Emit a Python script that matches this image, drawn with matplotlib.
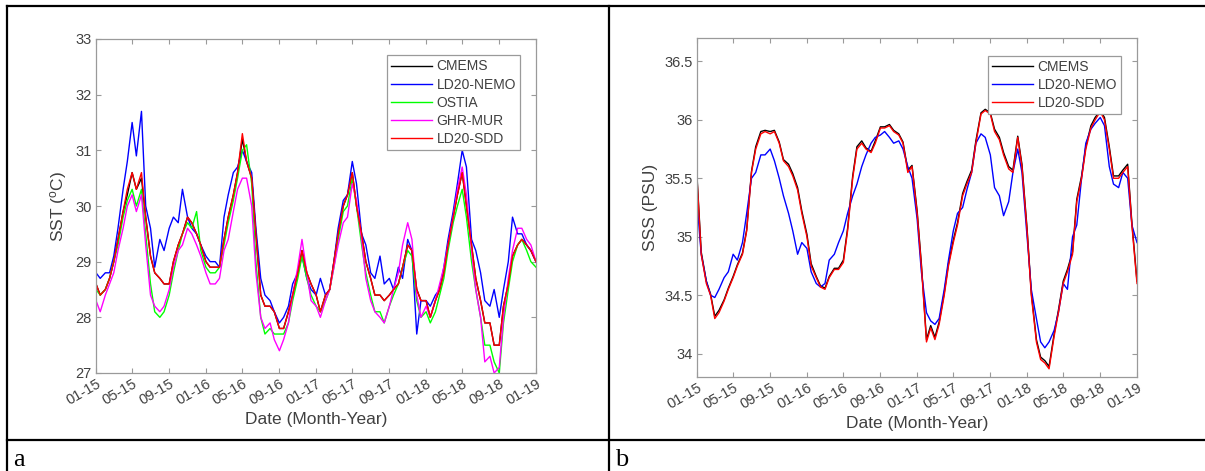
import numpy as np
import pandas as pd
import matplotlib
matplotlib.use("Agg")
import matplotlib.pyplot as plt
import matplotlib.dates as mdates
import matplotlib.ticker as mticker
from matplotlib.lines import Line2D

# ── Data (semi-monthly readings, Jan 2015 .. Jan 2019) ─────────────────────
dates = pd.date_range("2015-01-01", periods=97, freq="SMS")

sst_cmems = [
    28.6, 28.4, 28.5, 28.7, 29.0, 29.4, 29.9, 30.2, 30.6, 30.3, 30.5, 29.8, 29.1, 28.8, 28.7, 28.6, 28.6, 29.0, 29.3, 29.5, 29.8, 29.7, 29.5, 29.3,
    29.0, 28.9, 28.9, 28.9, 29.4, 29.8, 30.2, 30.6, 31.2, 30.8, 30.5, 29.5, 28.4, 28.2, 28.2, 28.1, 27.8, 27.8, 28.1, 28.4, 28.8, 29.2, 28.8, 28.6,
    28.4, 28.1, 28.4, 28.5, 29.0, 29.5, 30.0, 30.2, 30.6, 30.0, 29.5, 29.0, 28.7, 28.4, 28.4, 28.3, 28.4, 28.5, 28.6, 28.9, 29.3, 29.2, 28.5, 28.3,
    28.3, 28.0, 28.3, 28.5, 28.8, 29.3, 29.8, 30.2, 30.6, 30.0, 29.3, 28.7, 28.3, 27.9, 27.9, 27.5, 27.5, 28.2, 28.6, 29.1, 29.3, 29.4, 29.3, 29.2,
    29.0,
]
sst_nemo = [
    28.8, 28.7, 28.8, 28.8, 29.1, 29.6, 30.3, 30.8, 31.5, 30.9, 31.7, 30.0, 29.6, 28.9, 29.4, 29.2, 29.6, 29.8, 29.7, 30.3, 29.8, 29.6, 29.5, 29.3,
    29.1, 29.0, 29.0, 28.9, 29.8, 30.2, 30.6, 30.7, 31.0, 30.8, 30.6, 29.6, 28.7, 28.4, 28.3, 28.1, 27.9, 28.0, 28.2, 28.6, 28.8, 29.1, 28.7, 28.5,
    28.4, 28.7, 28.4, 28.5, 29.0, 29.6, 30.1, 30.2, 30.8, 30.4, 29.5, 29.3, 28.8, 28.7, 29.1, 28.6, 28.7, 28.5, 28.9, 28.7, 29.4, 29.2, 27.7, 28.3,
    28.3, 28.2, 28.4, 28.5, 28.9, 29.4, 29.9, 30.4, 31.0, 30.7, 29.4, 29.2, 28.8, 28.3, 28.2, 28.5, 28.0, 28.5, 29.0, 29.8, 29.5, 29.5, 29.3, 29.2,
    29.0,
]
sst_ostia = [
    28.5, 28.4, 28.5, 28.7, 29.0, 29.3, 29.8, 30.1, 30.3, 30.0, 30.3, 29.5, 28.6, 28.1, 28.0, 28.1, 28.4, 28.8, 29.2, 29.5, 29.7, 29.6, 29.9, 29.2,
    28.9, 28.8, 28.8, 28.9, 29.3, 29.7, 30.1, 30.5, 31.0, 31.1, 30.4, 29.0, 28.0, 27.7, 27.8, 27.7, 27.7, 27.7, 27.9, 28.3, 28.7, 29.1, 28.7, 28.4,
    28.2, 28.1, 28.3, 28.5, 28.9, 29.4, 29.9, 30.0, 30.5, 30.0, 29.3, 28.8, 28.4, 28.1, 28.1, 27.9, 28.2, 28.4, 28.6, 28.9, 29.2, 29.1, 28.3, 28.0,
    28.1, 27.9, 28.1, 28.4, 28.7, 29.2, 29.7, 30.0, 30.3, 29.8, 29.0, 28.5, 28.0, 27.5, 27.5, 27.2, 27.0, 27.9, 28.5, 29.0, 29.3, 29.4, 29.2, 29.0,
    28.9,
]
sst_mur = [
    28.3, 28.1, 28.4, 28.6, 28.8, 29.2, 29.6, 30.0, 30.2, 29.9, 30.2, 29.3, 28.4, 28.2, 28.1, 28.2, 28.5, 28.9, 29.2, 29.3, 29.6, 29.5, 29.3, 29.1,
    28.8, 28.6, 28.6, 28.7, 29.2, 29.4, 29.9, 30.3, 30.5, 30.5, 30.0, 28.8, 28.0, 27.8, 27.9, 27.6, 27.4, 27.6, 27.9, 28.4, 28.9, 29.4, 28.8, 28.3,
    28.2, 28.0, 28.3, 28.5, 28.9, 29.3, 29.7, 29.8, 30.4, 30.1, 29.4, 28.7, 28.3, 28.1, 28.0, 27.9, 28.2, 28.5, 28.8, 29.3, 29.7, 29.4, 28.4, 28.0,
    28.2, 28.0, 28.3, 28.6, 28.9, 29.3, 29.8, 30.3, 30.7, 30.2, 29.2, 28.5, 28.0, 27.2, 27.3, 27.0, 27.1, 28.0, 28.7, 29.2, 29.6, 29.6, 29.4, 29.3,
    29.0,
]
sst_sdd = [
    28.6, 28.4, 28.5, 28.7, 29.0, 29.4, 29.9, 30.3, 30.6, 30.3, 30.6, 29.8, 29.1, 28.8, 28.7, 28.6, 28.6, 29.0, 29.3, 29.5, 29.8, 29.7, 29.5, 29.3,
    29.0, 28.9, 28.9, 28.9, 29.4, 29.8, 30.2, 30.6, 31.3, 30.8, 30.5, 29.5, 28.4, 28.2, 28.2, 28.1, 27.8, 27.8, 28.1, 28.4, 28.8, 29.2, 28.8, 28.6,
    28.4, 28.1, 28.4, 28.5, 29.0, 29.5, 30.0, 30.2, 30.6, 30.0, 29.5, 29.0, 28.7, 28.4, 28.4, 28.3, 28.4, 28.5, 28.6, 28.9, 29.3, 29.2, 28.5, 28.3,
    28.3, 28.0, 28.3, 28.5, 28.8, 29.3, 29.8, 30.2, 30.6, 30.0, 29.3, 28.7, 28.3, 27.9, 27.9, 27.5, 27.5, 28.2, 28.6, 29.1, 29.3, 29.4, 29.3, 29.2,
    29.0,
]

sss_cmems = [
    35.52, 34.87, 34.62, 34.51, 34.32, 34.37, 34.46, 34.56, 34.66, 34.76, 34.86, 35.06, 35.56, 35.77, 35.9, 35.91, 35.9, 35.91, 35.81, 35.66, 35.62, 35.54, 35.42, 35.22,
    35.02, 34.77, 34.66, 34.58, 34.56, 34.66, 34.73, 34.73, 34.8, 35.07, 35.52, 35.77, 35.82, 35.76, 35.73, 35.82, 35.94, 35.94, 35.96, 35.91, 35.88, 35.81, 35.57, 35.61,
    35.22, 34.77, 34.12, 34.24, 34.14, 34.27, 34.52, 34.77, 34.97, 35.12, 35.37, 35.47, 35.57, 35.82, 36.06, 36.09, 36.06, 35.92, 35.85, 35.72, 35.6, 35.57, 35.86, 35.62,
    35.07, 34.52, 34.12, 33.97, 33.94, 33.89, 34.17, 34.37, 34.62, 34.72, 34.87, 35.32, 35.52, 35.77, 35.95, 36.02, 36.08, 36.02, 35.77, 35.52, 35.52, 35.57, 35.62, 35.12,
    34.62,
]
sss_nemo = [
    35.3, 34.85, 34.62, 34.5, 34.48, 34.55, 34.65, 34.7, 34.85, 34.8, 34.95, 35.2, 35.5, 35.55, 35.7, 35.7, 35.75, 35.65, 35.5, 35.35, 35.2, 35.05, 34.85, 34.95,
    34.9, 34.7, 34.6, 34.57, 34.6, 34.8, 34.85, 34.95, 35.05, 35.2, 35.35, 35.45, 35.6, 35.7, 35.8, 35.85, 35.87, 35.9, 35.85, 35.8, 35.82, 35.75, 35.6, 35.5,
    35.15, 34.7, 34.35, 34.28, 34.25, 34.3, 34.55, 34.8, 35.05, 35.2, 35.25, 35.4, 35.55, 35.8, 35.88, 35.85, 35.7, 35.42, 35.35, 35.18, 35.3, 35.55, 35.75, 35.55,
    35.0, 34.55, 34.3, 34.1, 34.05, 34.1, 34.2, 34.35, 34.6, 34.55, 35.0, 35.1, 35.5, 35.8, 35.92, 35.97, 36.02, 35.95, 35.6, 35.45, 35.42, 35.55, 35.5, 35.1,
    34.95,
]
sss_sdd = [
    35.5, 34.85, 34.6, 34.5, 34.3, 34.35, 34.45, 34.55, 34.65, 34.75, 34.85, 35.05, 35.55, 35.75, 35.88, 35.9, 35.88, 35.9, 35.8, 35.65, 35.6, 35.52, 35.4, 35.2,
    35.0, 34.75, 34.65, 34.57, 34.55, 34.65, 34.72, 34.72, 34.78, 35.05, 35.5, 35.75, 35.8, 35.75, 35.72, 35.8, 35.93, 35.93, 35.95, 35.9, 35.87, 35.8, 35.55, 35.6,
    35.2, 34.75, 34.1, 34.22, 34.12, 34.25, 34.5, 34.75, 34.95, 35.1, 35.35, 35.45, 35.55, 35.8, 36.05, 36.08, 36.05, 35.9, 35.83, 35.7, 35.58, 35.55, 35.85, 35.6,
    35.05, 34.5, 34.1, 33.95, 33.92, 33.87, 34.15, 34.35, 34.6, 34.7, 34.85, 35.3, 35.5, 35.75, 35.93, 36.0, 36.07, 36.0, 35.75, 35.5, 35.5, 35.55, 35.6, 35.1,
    34.6,
]

sst_series = [
    ("CMEMS", sst_cmems, "#000000"),
    ("LD20-NEMO", sst_nemo, "#0000ff"),
    ("OSTIA", sst_ostia, "#00ff00"),
    ("GHR-MUR", sst_mur, "#ff00ff"),
    ("LD20-SDD", sst_sdd, "#ff0000"),
]
sss_series = [
    ("CMEMS", sss_cmems, "#000000"),
    ("LD20-NEMO", sss_nemo, "#0000ff"),
    ("LD20-SDD", sss_sdd, "#ff0000"),
]

# ── Style ──────────────────────────────────────────────────────────────────
plt.rcParams["font.family"] = ["Liberation Sans", "DejaVu Sans"]
plt.rcParams["mathtext.fontset"] = "custom"
plt.rcParams["mathtext.rm"] = "Liberation Sans"
plt.rcParams["mathtext.it"] = "Liberation Sans"

TXT = "#404040"
AX = "#9a9a9a"
W, H = 1205, 471

fig = plt.figure(figsize=(W / 100, H / 100), dpi=100)

tick_dates = pd.date_range("2015-01-01", "2019-01-01", freq="4MS")


def style_axis(ax):
    ax.set_xlim(pd.Timestamp("2015-01-01"), pd.Timestamp("2019-01-01"))
    ax.set_xticks(tick_dates)
    ax.xaxis.set_major_formatter(mdates.DateFormatter("%m-%y"))
    ax.yaxis.set_major_formatter(mticker.FuncFormatter(lambda v, _: f"{v:g}"))
    for s in ax.spines.values():
        s.set_color(AX)
        s.set_linewidth(0.9)
    ax.tick_params(direction="in", length=3.5, width=0.8, color=AX,
                   labelcolor=TXT, labelsize=10.5, top=True, right=True, pad=3)
    for lab in ax.get_xticklabels():
        lab.set_rotation(30)
        lab.set_ha("right")
        lab.set_rotation_mode("anchor")
    ax.set_xlabel("Date (Month-Year)", fontsize=12.5, color=TXT, labelpad=3)


def style_legend(leg):
    leg.get_frame().set_edgecolor(AX)
    leg.get_frame().set_linewidth(0.9)
    for t in leg.get_texts():
        t.set_color(TXT)


# a: SST
ax1 = fig.add_axes([96 / W, 1 - 373 / H, 440 / W, 334 / H])
for name, vals, col in sst_series:
    ax1.plot(dates, vals, color=col, linewidth=1.0, label=name)
ax1.set_ylim(27, 33)
ax1.set_yticks(np.arange(27, 34, 1))
style_axis(ax1)
ax1.set_ylabel(r"SST ($^{o}$C)", fontsize=12.5, color=TXT, labelpad=5)
leg1 = ax1.legend(loc="upper right", bbox_to_anchor=(0.98, 0.972), fontsize=10,
                  handlelength=2.9, labelspacing=0.3, borderpad=0.3,
                  handletextpad=0.35, fancybox=False, framealpha=1)
style_legend(leg1)

# b: SSS
ax2 = fig.add_axes([697 / W, 1 - 377 / H, 440 / W, 339 / H])
for name, vals, col in sss_series:
    ax2.plot(dates, vals, color=col, linewidth=1.0, label=name)
ax2.set_ylim(33.8, 36.7)
ax2.set_yticks(np.arange(34, 36.6, 0.5))
style_axis(ax2)
ax2.set_ylabel("SSS (PSU)", fontsize=12.5, color=TXT, labelpad=5)
leg2 = ax2.legend(loc="upper right", bbox_to_anchor=(0.98, 0.968), fontsize=10,
                  handlelength=2.9, labelspacing=0.3, borderpad=0.3,
                  handletextpad=0.35, fancybox=False, framealpha=1)
style_legend(leg2)

# ── Table frame and panel letters ───────────────────────────────────────────
def fline(x0, y0, x1, y1):
    fig.add_artist(Line2D([x0 / W, x1 / W], [1 - y0 / H, 1 - y1 / H],
                          color="black", linewidth=1.6, transform=fig.transFigure))


fline(7, 6, W, 6)
fline(7, 6, 7, H)
fline(609, 6, 609, H)
fline(7, 439.5, W, 439.5)

fig.text(13 / W, 1 - 466 / H, "a", fontsize=19, family="Liberation Serif", color="black")
fig.text(615 / W, 1 - 466 / H, "b", fontsize=19, family="Liberation Serif", color="black")

fig.savefig("out.png", dpi=100)
